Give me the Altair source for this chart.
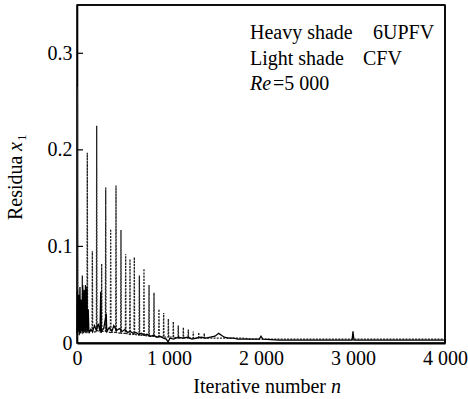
import altair as alt
import pandas as pd

FONT = "Liberation Serif"

# Light shade: CFV (dashed spikes)
cfv_n = [0, 4, 7,
         55, 58, 61,
         109, 112, 115,
         164, 167, 170,
         211, 214, 217,
         265, 268, 271,
         309, 312, 315,
         363, 366, 369,
         421, 424, 427,
         475, 478, 481,
         526, 529, 532,
         573, 576, 579,
         620, 623, 626,
         675, 678, 681,
         725, 728, 731,
         780, 783, 786,
         834, 837, 840,
         888, 891, 894,
         939, 942, 945,
         990, 993, 996,
         1044, 1047, 1050,
         1098, 1101, 1104,
         1153, 1156, 1159,
         1207, 1210, 1213,
         1261, 1264, 1267,
         1320, 1323, 1326,
         1380, 1383, 1386,
         1500, 1600, 1700, 1800, 1900, 2000, 2200, 2400, 2600, 2800, 3000, 3200, 3400, 3600, 3800, 4000]
cfv_r = [0.006, 0.265, 0.012,
         0.010, 0.070, 0.012,
         0.011, 0.197, 0.013,
         0.012, 0.095, 0.011,
         0.012, 0.225, 0.013,
         0.011, 0.082, 0.012,
         0.012, 0.161, 0.012,
         0.011, 0.118, 0.011,
         0.011, 0.163, 0.011,
         0.010, 0.117, 0.010,
         0.010, 0.092, 0.010,
         0.009, 0.087, 0.009,
         0.009, 0.089, 0.009,
         0.008, 0.070, 0.008,
         0.008, 0.077, 0.008,
         0.007, 0.060, 0.007,
         0.007, 0.052, 0.007,
         0.006, 0.035, 0.006,
         0.006, 0.031, 0.006,
         0.006, 0.025, 0.006,
         0.006, 0.022, 0.006,
         0.005, 0.018, 0.005,
         0.005, 0.016, 0.005,
         0.005, 0.014, 0.005,
         0.005, 0.012, 0.005,
         0.005, 0.011, 0.005,
         0.005, 0.010, 0.005,
         0.005, 0.005, 0.005, 0.005, 0.004, 0.004, 0.004, 0.004, 0.004, 0.004, 0.004, 0.004, 0.004, 0.004, 0.004, 0.004]

# Heavy shade: 6UPFV (solid)
upfv_n = [0, 5, 10, 18, 24, 32, 38, 48, 54, 62,
          68, 78, 84, 92, 98, 108, 114, 122, 130, 150,
          170, 190, 210, 230, 250, 258, 264, 290, 318, 324,
          350, 380, 400, 430, 460, 490, 520, 550, 580, 610,
          640, 670, 700, 730, 760, 800, 830, 870, 900, 940,
          970, 990, 1010, 1050, 1100, 1150, 1200, 1250, 1300, 1350,
          1400, 1450, 1500, 1540, 1570, 1600, 1650, 1700, 1750, 1800,
          1900, 1980, 2000, 2020, 2200, 2400, 2600, 2800, 2990, 3000,
          3010, 3200, 3500, 3800, 4000]
upfv_r = [0.010, 0.055, 0.012, 0.050, 0.008, 0.058, 0.010, 0.045, 0.012, 0.060,
          0.010, 0.055, 0.012, 0.060, 0.010, 0.058, 0.012, 0.035, 0.010, 0.014,
          0.012, 0.018, 0.013, 0.020, 0.012, 0.053, 0.012, 0.015, 0.030, 0.012,
          0.016, 0.012, 0.018, 0.013, 0.015, 0.012, 0.014, 0.011, 0.012, 0.010,
          0.011, 0.009, 0.010, 0.008, 0.009, 0.007, 0.008, 0.006, 0.007, 0.005,
          0.004, 0.001, 0.005, 0.004, 0.006, 0.005, 0.006, 0.004, 0.005, 0.006,
          0.005, 0.006, 0.007, 0.010, 0.008, 0.006, 0.005, 0.005, 0.004, 0.004,
          0.004, 0.004, 0.007, 0.004, 0.003, 0.003, 0.003, 0.003, 0.003, 0.012,
          0.003, 0.003, 0.003, 0.003, 0.003]

x_tick_vals = [0, 1000, 2000, 3000, 4000]
y_tick_vals = [0, 0.1, 0.2, 0.3]
y_inner_ticks = [0.1, 0.2, 0.3]
x_domain = [0, 4000]
y_domain = [0, 0.35]

cfv = pd.DataFrame({"n": cfv_n, "r": cfv_r})
upfv = pd.DataFrame({"n": upfv_n, "r": upfv_r})
ticks = pd.DataFrame({"r": y_inner_ticks})

xs = alt.Scale(domain=x_domain, nice=False, zero=False)
ys = alt.Scale(domain=y_domain, nice=False)

x_axis = alt.Axis(
    values=x_tick_vals,
    labelExpr="datum.value == 0 ? '0' : replace(format(datum.value, ','), ',', ' ')",
    ticks=False, domain=True, domainColor="black", domainWidth=2, grid=False,
    labelFlush=False, labelOverlap=False,
    labelFont=FONT, labelFontSize=20, labelColor="black", labelPadding=5,
    title=None,
)
y_axis = alt.Axis(
    values=y_tick_vals,
    labelExpr="datum.value == 0 ? '0' : format(datum.value, '.1f')",
    ticks=False, domain=True, domainColor="black", domainWidth=1.6, grid=False,
    labelOverlap=False, labelFlush=False,
    labelFont=FONT, labelFontSize=20, labelColor="black", labelPadding=5,
    title=None,
)

cfv_line = alt.Chart(cfv).mark_line(
    color="#222222", strokeWidth=1.3, strokeDash=[2, 1.2]
).encode(
    x=alt.X("n:Q", scale=xs, axis=x_axis),
    y=alt.Y("r:Q", scale=ys, axis=y_axis),
)

upfv_line = alt.Chart(upfv).mark_line(
    color="black", strokeWidth=1.3
).encode(
    x=alt.X("n:Q", scale=xs),
    y=alt.Y("r:Q", scale=ys),
)

tick_rules = alt.Chart(ticks).mark_rule(color="black", strokeWidth=1.2).encode(
    y=alt.Y("r:Q", scale=ys),
    x=alt.value(0),
    x2=alt.value(6),
)

top_rule = alt.Chart(pd.DataFrame({"f": [1]})).mark_rule(
    color="black", strokeWidth=1.6
).encode(
    x=alt.datum(x_domain[0], scale=xs), x2=alt.datum(x_domain[1]),
    y=alt.datum(y_domain[1], scale=ys),
)
right_rule = alt.Chart(pd.DataFrame({"f": [1]})).mark_rule(
    color="black", strokeWidth=1.6
).encode(
    x=alt.datum(x_domain[1], scale=xs),
    y=alt.datum(y_domain[0], scale=ys), y2=alt.datum(y_domain[1]),
)

def label(txt, x, y, style="normal", align="left", angle=0, size=20):
    return alt.Chart(pd.DataFrame({"t": [txt]})).mark_text(
        align=align, baseline="alphabetic", font=FONT, fontSize=size,
        fontStyle=style, color="black", angle=angle,
    ).encode(text="t:N", x=alt.value(x), y=alt.value(y))

annotations = [
    label("Heavy shade", 173, 34),
    label("6UPFV", 296, 34),
    label("Light shade", 173, 60),
    label("CFV", 286, 60),
    label("Re", 173, 85, "italic"),
    label("=5 000", 196, 85),
    # x axis title
    label("Iterative number", 249, 388, align="right"),
    label("n", 254, 388, "italic"),
    # y axis title (rotated)
    label("Residua", -55, 215, angle=270),
    label("x", -55, 146, "italic", angle=270),
    label("1", -51, 136, angle=270, size=13),
]

chart = alt.layer(cfv_line, upfv_line, tick_rules, top_rule, right_rule, *annotations).properties(
    width=368, height=338,
    autosize=alt.AutoSizeParams(type="none"),
    padding={"left": 77, "top": 5, "right": 23, "bottom": 56},
).configure(
    background="white", font=FONT
).configure_axis(
    labelFont=FONT
).configure_view(
    stroke="black", strokeWidth=1.5
)

chart.save("out.html", embed_options={"renderer": "svg", "actions": False})
